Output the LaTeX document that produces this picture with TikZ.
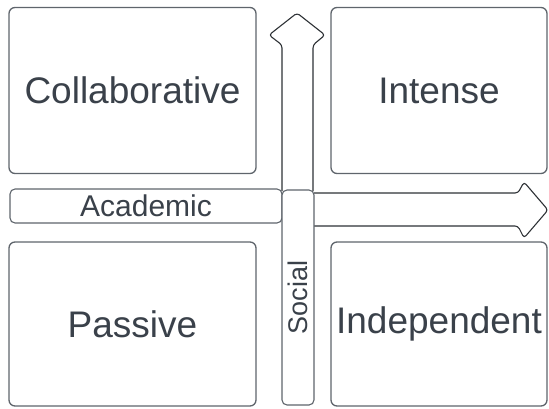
\documentclass[tikz,border=0pt]{standalone}
\usepackage{fontspec}
\setmainfont{Liberation Sans}
\definecolor{txt}{HTML}{3A414A}
\definecolor{edge}{HTML}{5F656C}
\definecolor{arr}{HTML}{2E3236}
\begin{document}
\begin{tikzpicture}[x=1pt,y=-1pt,
  quad/.style={draw=edge,line width=1.3pt,rounded corners=6pt,fill=white,inner sep=0pt,text=txt},
  bar/.style={draw=edge,line width=1.1pt,rounded corners=5pt,fill=white,inner sep=0pt,text=txt},
  arrowshape/.style={draw=arr,line width=1.1pt,rounded corners=3pt,fill=white,line join=round}]
\useasboundingbox (0,0) rectangle (549,408);
% arrows
\draw[arrowshape] (282,191) -- (282,45) -- (269,35) -- (297,13) -- (325,35) -- (313,45) -- (313,191);
\draw[arrowshape] (314,193) -- (518,193) -- (524,182) -- (548,210) -- (524,238) -- (518,226) -- (314,226);
% quadrant boxes
\node[quad,minimum width=247pt,minimum height=166pt,font=\fontsize{37}{40}\selectfont] (collab) at (132.5,90.5) {Collaborative};
\node[quad,minimum width=216pt,minimum height=166pt,font=\fontsize{37}{40}\selectfont] (intense) at (439,90.5) {Intense};
\node[quad,minimum width=247pt,minimum height=164pt,font=\fontsize{37}{40}\selectfont] (passive) at (132.5,324) {Passive};
\node[quad,minimum width=216pt,minimum height=164pt,font=\fontsize{37}{40}\selectfont] (indep) at (439,324) {Independent};
% axis bars
\node[bar,minimum width=272pt,minimum height=34pt,font=\fontsize{30}{32}\selectfont] (acad) at (146,206) {Academic};
\node[bar,minimum width=215pt,minimum height=32pt,rotate=90,font=\fontsize{27}{30}\selectfont] (social) at (298,297.5) {Social};
\end{tikzpicture}
\end{document}
